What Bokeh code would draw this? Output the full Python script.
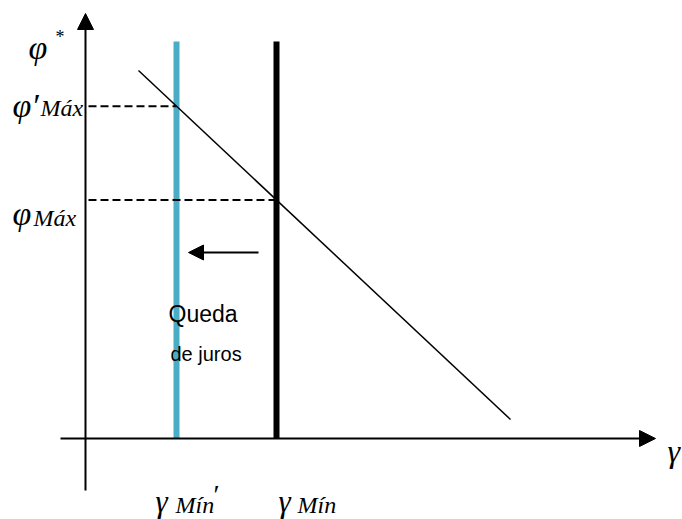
import numpy as np
from bokeh.plotting import figure
from bokeh.models import Range1d, Arrow, NormalHead, ColumnDataSource
from bokeh.core.properties import value
from bokeh.embed import file_html
from bokeh.resources import INLINE

# Diagram units: origin at the crossing of the two axes
curve_gamma = [53, 425]      # γ at the two ends of the φ* schedule
curve_phi = [368, 19]        # φ* at the two ends of the schedule
gamma_min = [91, 191]        # γMín′ (after the rate cut), γMín (before)
gamma_top = 397              # height of the two threshold lines
threshold_colors = ["#4BACC6", "#000000"]
threshold_widths = [6, 6]

# φMáx
phi_max = list(np.interp(gamma_min, curve_gamma, curve_phi))

MATH_FONT = "Liberation Serif"

p = figure(width=682, height=519, x_range=Range1d(-85, 597), y_range=Range1d(-81, 438),
           output_backend="svg", toolbar_location=None, min_border=0,
           x_axis_location=None, y_axis_location=None)
p.outline_line_color = None
p.xgrid.visible = False
p.ygrid.visible = False
p.background_fill_color = "white"
p.border_fill_color = "white"

# axes with arrow heads
p.add_layout(Arrow(x_start=0, y_start=-52, x_end=0, y_end=425, line_width=2, line_color="black",
                   end=NormalHead(size=16, fill_color="black", line_color="black", line_width=1)))
p.add_layout(Arrow(x_start=-25, y_start=0, x_end=570, y_end=0, line_width=2, line_color="black",
                   end=NormalHead(size=16, fill_color="black", line_color="black", line_width=1)))

# threshold lines
thr = ColumnDataSource(dict(x=gamma_min, top=[gamma_top] * 2, c=threshold_colors, w=threshold_widths))
p.segment(x0="x", y0=0, x1="x", y1="top", line_color="c", line_width="w", line_cap="butt", source=thr)

# φ* schedule
p.line(curve_gamma, curve_phi, line_color="black", line_width=1.5)

# dashed guides to the vertical axis
dash = ColumnDataSource(dict(x1=gamma_min, y=phi_max))
p.segment(x0=3, y0="y", x1="x1", y1="y", line_color="black", line_width=2, line_dash="8 4", source=dash)

# shift arrow
p.add_layout(Arrow(x_start=gamma_min[1] - 18, y_start=186, x_end=gamma_min[0] + 12, y_end=186,
                   line_width=2, line_color="black",
                   end=NormalHead(size=15, fill_color="black", line_color="black", line_width=1)))

def label(x, y, text, size, dx=0, dy=0, font=MATH_FONT, style="italic", align="left"):
    p.text(x=[x], y=[y], text=[text], x_offset=dx, y_offset=dy,
           text_font=value(font), text_font_style=style, text_font_size=f"{size}px",
           text_align=align, text_baseline="alphabetic", text_color="black")

# vertical axis labels
label(0, 393, "φ", 34, dx=-57, dy=2)
label(0, 393, "*", 18, dx=-30, dy=-9, style="normal")
label(0, phi_max[0], "φ′", 34, dx=-73, dy=-1)
label(0, phi_max[0], "Máx", 24, dx=-45, dy=2)
label(0, phi_max[1], "φ", 34, dx=-73, dy=14)
label(0, phi_max[1], "Máx", 24, dx=-52, dy=18)

# horizontal axis labels
label(581, 0, "γ", 32, dx=1, dy=12)
label(gamma_min[0], 0, "γ", 31, dx=-21, dy=63)
label(gamma_min[0], 0, "Mín", 24, dx=-1, dy=66)
label(gamma_min[0], 0, "′", 28, dx=37, dy=56, style="normal")
label(gamma_min[1], 0, "γ", 31, dx=2, dy=63)
label(gamma_min[1], 0, "Mín", 24, dx=21, dy=66)

# annotation text
label(83, 125, "Queda", 23, font="Liberation Sans", style="normal")
label(85, 85, "de juros", 20, font="Liberation Sans", style="normal")

open("out.html", "w").write(file_html(p, INLINE))
